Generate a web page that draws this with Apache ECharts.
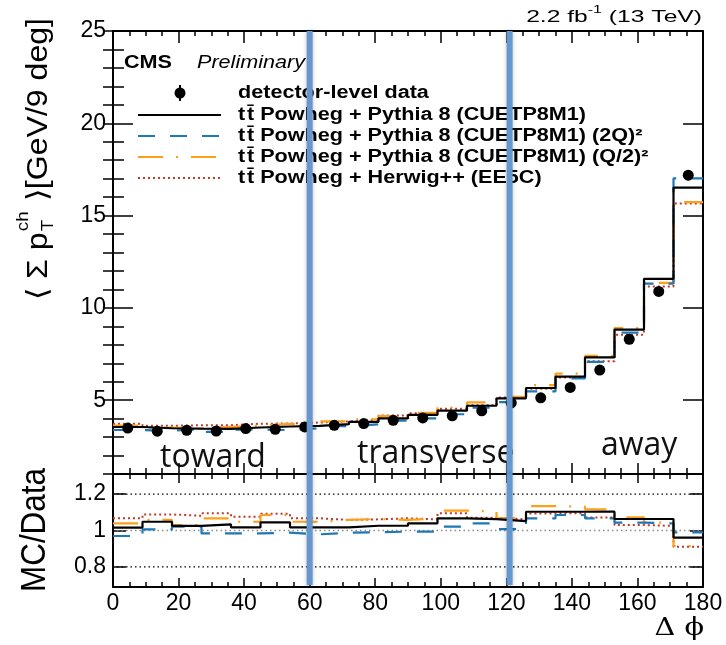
<!DOCTYPE html>
<html><head><meta charset="utf-8">
<script src="https://cdn.jsdelivr.net/npm/echarts@6/dist/echarts.min.js"></script>
<style>html,body{margin:0;padding:0;background:#fff}#c{width:726px;height:645px}</style>
</head><body><div id="c"></div>
<script>
// ---------------- data ----------------
const binEdges = [0,9,18,27,36,45,54,63,72,81,90,99,108,117,126,135,144,153,162,171,180];
const binCenters = [4.5,13.5,22.5,31.5,40.5,49.5,58.5,67.5,76.5,85.5,94.5,103.5,112.5,121.5,130.5,139.5,148.5,157.5,166.5,175.5];
const dataVals = [3.49,3.32,3.37,3.33,3.46,3.42,3.55,3.64,3.73,3.91,4.04,4.15,4.42,4.85,5.13,5.69,6.63,8.30,10.89,17.19];
const dataErr  = [0.05,0.05,0.05,0.05,0.05,0.05,0.05,0.05,0.05,0.05,0.06,0.06,0.06,0.07,0.07,0.08,0.09,0.11,0.15,0.27];
const pythiaCUETP8M1 = [3.546,3.479,3.454,3.443,3.519,3.574,3.610,3.702,3.827,4.012,4.198,4.428,4.698,5.102,5.658,6.276,7.313,8.823,11.576,16.520];
const pythia2Q       = [3.385,3.340,3.441,3.277,3.405,3.379,3.475,3.596,3.693,3.887,4.016,4.237,4.592,4.889,5.474,6.174,7.074,8.657,11.315,17.018];
const pythiaQ2       = [3.626,3.513,3.471,3.553,3.626,3.711,3.720,3.851,3.965,4.137,4.311,4.602,4.875,5.175,5.817,6.435,7.399,8.898,11.358,15.729];
const herwigEE5C     = [3.724,3.612,3.643,3.643,3.723,3.735,3.788,3.851,3.958,4.172,4.286,4.540,4.729,5.146,5.612,6.225,7.107,8.549,11.162,15.660];
const mainYTicks = [5,10,15,20,25];
const ratioTicks = [0.8,1,1.2];
const regionEdges = [60,121];
const regionLabels = ['toward','transverse','away'];
const legendLabels = [
  'detector-level data',
  't\u200At\u0304 Powheg + Pythia 8 (CUETP8M1)',
  't\u200At\u0304 Powheg + Pythia 8 (CUETP8M1) (2Q)\u00B2',
  't\u200At\u0304 Powheg + Pythia 8 (CUETP8M1) (Q/2)\u00B2',
  't\u200At\u0304 Powheg + Herwig++ (EE5C)'
];

// ---------------- helpers ----------------
const FONT = "'Liberation Sans', Arial, Helvetica, sans-serif";
const SERIF = "'DejaVu Serif', 'Liberation Serif', serif";
const ctx = document.createElement('canvas').getContext('2d');
function tw(t, f){ ctx.font = f; return ctx.measureText(t).width; }
const BLACK = {color:'#000', width:2.2, type:'solid'};
const BLUE  = {color:'#1f77b4', width:2.2, type:[17,15]};
const ORANGE= {color:'#ff9e1b', width:2.2, type:[25,13,2,13]};
const RED   = {color:'#c0392b', width:2, type:[2,3]};
const mcSets = [
  {vals: herwigEE5C, style: RED, z: 3},
  {vals: pythiaQ2, style: ORANGE, z: 4},
  {vals: pythia2Q, style: BLUE, z: 5},
  {vals: pythiaCUETP8M1, style: BLACK, z: 6}
];
const ratioOf = vals => vals.map((v,i) => v / dataVals[i]);
const stepData = vals => binEdges.map((e,i) => [e, vals[Math.min(i, vals.length-1)]]);
const stepSeries = (vals, xi, yi, style, z) => ({
  type:'line', xAxisIndex:xi, yAxisIndex:yi, step:'end', data: stepData(vals),
  showSymbol:false, symbol:'none', lineStyle:style, z, silent:true, clip:true
});

const axLine = {show:true, onZero:false, lineStyle:{color:'#000', width:2}};
const tickLS = {color:'#000', width:1.5};
function xAx(gi, pos, tick, minor, label){
  return {gridIndex:gi, type:'value', min:0, max:180, interval:20, position:pos,
    axisLine:axLine,
    axisTick:{show:true, inside:true, length:tick, lineStyle:tickLS},
    minorTick:{show:true, splitNumber:4, length:minor, lineStyle:tickLS},
    axisLabel: label ? {show:true, fontSize:23, fontFamily:FONT, color:'#000', margin:5} : {show:false},
    splitLine:{show:false}, minorSplitLine:{show:false}};
}
const mainY = {gridIndex:0, type:'value', min:1, max:25, splitLine:{show:false}};
const ratY = {gridIndex:1, type:'value', min:0.69, max:1.31, splitLine:{show:false}};

// ---------------- text graphics ----------------
const graphics = [];
const SX = 1.2;
// lumi
graphics.push({type:'text', x:702, y:15, scaleX:1.45, style:{
  text:'{a|2.2 fb}{s|-1}{a| (13 TeV)}', align:'right', textAlign:'right', verticalAlign:'middle', textVerticalAlign:'middle',
  rich:{a:{fontSize:17, fontFamily:FONT, color:'#000', lineHeight:22, verticalAlign:'bottom'},
        s:{fontSize:11, fontFamily:FONT, color:'#000', verticalAlign:'top', lineHeight:12}}}});
// CMS Preliminary
graphics.push({type:'text', x:124, y:63, scaleX:1.2, style:{text:'CMS', font:'bold 18px '+FONT, fill:'#000', verticalAlign:'middle', textVerticalAlign:'middle'}});
graphics.push({type:'text', x:197, y:63, scaleX:SX, style:{text:'Preliminary', font:'italic 18px '+FONT, fill:'#000', verticalAlign:'middle', textVerticalAlign:'middle'}});
// legend
const rows = [93,115,136,157,178];
legendLabels.forEach((t,i) => {
  graphics.push({type:'text', x:238, y:rows[i], scaleX:SX, style:{text:t, font:'bold 18px '+FONT, fill:'#000', verticalAlign:'middle', textVerticalAlign:'middle'}});
});
graphics.push({type:'circle', shape:{cx:180, cy:rows[0], r:5.5}, style:{fill:'#000'}});
graphics.push({type:'line', shape:{x1:180, y1:rows[0]-8, x2:180, y2:rows[0]+8}, style:{stroke:'#000', lineWidth:2}});
[BLACK, BLUE, ORANGE, RED].forEach((s,i) => {
  graphics.push({type:'line', shape:{x1:138, y1:rows[i+1], x2:221, y2:rows[i+1]},
    style:{stroke:s.color, lineWidth:s.width, lineDash: Array.isArray(s.type) ? s.type : null}});
});
// region labels
const RF = "'Open Sans', 'Noto Sans', sans-serif";
[[160,474],[357,470],[601,462]].forEach((p,i) => {
  graphics.push({type:'text', x:p[0], y:p[1], style:{text:regionLabels[i], font:'32px '+RF, fill:'#111', verticalAlign:'bottom', textVerticalAlign:'bottom'}});
});
// x title
graphics.push({type:'text', x:704, y:628, scaleX:1.15, style:{text:'\u0394 \u03D5', font:'25px '+SERIF, fill:'#000', align:'right', textAlign:'right', verticalAlign:'middle', textVerticalAlign:'middle'}});
// y title (rotated)
(function(){
  const fs = 29, f = fs+'px '+FONT, fsm = Math.round(fs*0.6), fm = fsm+'px '+FONT;
  const p1 = '\u27E8 \u03A3 p', p3 = ' \u27E9[GeV/9 deg]';
  const w1 = tw(p1,f), wT = tw('T',fm), wc = tw('ch',fm), w3 = tw(p3,f);
  const total = w1 + Math.max(wT,wc) + 2 + w3;
  const sx = 282/total;
  graphics.push({type:'group', x:39, y:300, rotation:Math.PI/2, scaleX:sx, children:[
    {type:'text', x:0, y:0, style:{text:p1, font:f, fill:'#000', verticalAlign:'middle', textVerticalAlign:'middle'}},
    {type:'text', x:w1+1, y:fs*0.32, style:{text:'T', font:fm, fill:'#000', verticalAlign:'middle', textVerticalAlign:'middle'}},
    {type:'text', x:w1+1, y:-fs*0.55, style:{text:'ch', font:fm, fill:'#000', verticalAlign:'middle', textVerticalAlign:'middle'}},
    {type:'text', x:w1+Math.max(wT,wc)+2, y:0, style:{text:p3, font:f, fill:'#000', verticalAlign:'middle', textVerticalAlign:'middle'}}
  ]});
  const f2 = '35px '+FONT, t2 = 'MC/Data', w2 = tw(t2,f2);
  graphics.push({type:'group', x:35, y:592, rotation:Math.PI/2, scaleX:124/w2, children:[
    {type:'text', x:0, y:0, style:{text:t2, font:f2, fill:'#000', verticalAlign:'middle', textVerticalAlign:'middle'}}
  ]});
})();

// ---------------- series ----------------
const series = [];
mcSets.forEach(m => series.push(stepSeries(m.vals, 0, 0, m.style, m.z)));
series.push({type:'custom', xAxisIndex:0, yAxisIndex:0, z:7, silent:true,
  data: binCenters.map((x,i) => [x, dataVals[i], dataErr[i]]),
  encode:{x:0, y:1},
  renderItem:(p, api) => {
    const x = api.value(0), y = api.value(1), e = api.value(2);
    const a = api.coord([x, y+e]), b = api.coord([x, y-e]);
    return {type:'line', shape:{x1:a[0], y1:a[1], x2:b[0], y2:b[1]}, style:{stroke:'#000', lineWidth:2}};
  }});
series.push({type:'scatter', xAxisIndex:0, yAxisIndex:0, z:8, silent:true,
  data: binCenters.map((x,i) => [x, dataVals[i]]), symbol:'circle', symbolSize:11,
  itemStyle:{color:'#000', opacity:1}});
// ratio reference lines
series.push({type:'custom', xAxisIndex:2, yAxisIndex:4, z:1, silent:true,
  data: ratioTicks.map(v => [0, v]), encode:{x:0, y:1},
  renderItem:(p, api) => {
    const v = api.value(1);
    const a = api.coord([0, v]), b = api.coord([180, v]);
    return {type:'line', shape:{x1:a[0]+4, y1:a[1], x2:b[0]-4, y2:b[1]},
      style:{stroke: v === 1 ? '#8a8a8a' : '#000', lineWidth:1.3, lineDash:[1.5,3]}};
  }});
mcSets.forEach(m => series.push(stepSeries(ratioOf(m.vals), 2, 4, m.style, m.z)));
// region boundary lines
const bluLine = (xi, yi, top, bot) => ({type:'custom', xAxisIndex:xi, yAxisIndex:yi, z:20, silent:true,
  data: regionEdges.map(v => [v, bot]), encode:{x:0, y:1},
  renderItem:(p, api) => {
    const x = api.value(0);
    const a = api.coord([x, top]), b = api.coord([x, bot]);
    return {type:'line', shape:{x1:a[0], y1:a[1], x2:b[0], y2:b[1]},
      style:{stroke:'#6698cf', lineWidth:6, shadowBlur:4, shadowColor:'rgba(0,0,0,0.25)'}};
  }});
series.push(bluLine(0, 0, 25, 1));
series.push(bluLine(2, 4, 1.31, 0.70));

const option = {
  animation:false,
  backgroundColor:'#fff',
  grid:[
    {left:113, top:31, width:590, height:443},
    {left:113, top:474, width:590, height:113}
  ],
  xAxis:[
    xAx(0,'bottom',11,6,false),
    xAx(0,'top',12,5,false),
    xAx(1,'bottom',9,5,true),
    xAx(1,'top',9,5,false)
  ],
  yAxis:[
    Object.assign({}, mainY, {position:'left', axisLine:axLine,
      axisTick:{show:true, inside:true, length:20, customValues:mainYTicks, lineStyle:tickLS},
      axisLabel:{show:true, customValues:mainYTicks, fontSize:23, fontFamily:FONT, color:'#000', margin:7}}),
    Object.assign({}, mainY, {position:'right', axisLine:axLine,
      axisTick:{show:true, inside:true, length:20, customValues:mainYTicks, lineStyle:tickLS},
      axisLabel:{show:false}}),
    Object.assign({}, mainY, {position:'left', interval:1, axisLine:{show:false},
      axisTick:{show:true, inside:true, length:11, lineStyle:tickLS}, axisLabel:{show:false}}),
    Object.assign({}, mainY, {position:'right', interval:1, axisLine:{show:false},
      axisTick:{show:true, inside:true, length:10, lineStyle:tickLS}, axisLabel:{show:false}}),
    Object.assign({}, ratY, {position:'left', axisLine:axLine,
      axisTick:{show:true, inside:true, length:13, customValues:ratioTicks, lineStyle:tickLS},
      axisLabel:{show:true, customValues:ratioTicks, fontSize:23, fontFamily:FONT, color:'#000', margin:7}}),
    Object.assign({}, ratY, {position:'right', axisLine:axLine,
      axisTick:{show:true, inside:true, length:13, customValues:ratioTicks, lineStyle:tickLS},
      axisLabel:{show:false}})
  ],
  series,
  graphic: graphics
};
const chart = echarts.init(document.getElementById('c'), null, {renderer:'canvas'});
chart.setOption(option);
</script>
</body></html>
